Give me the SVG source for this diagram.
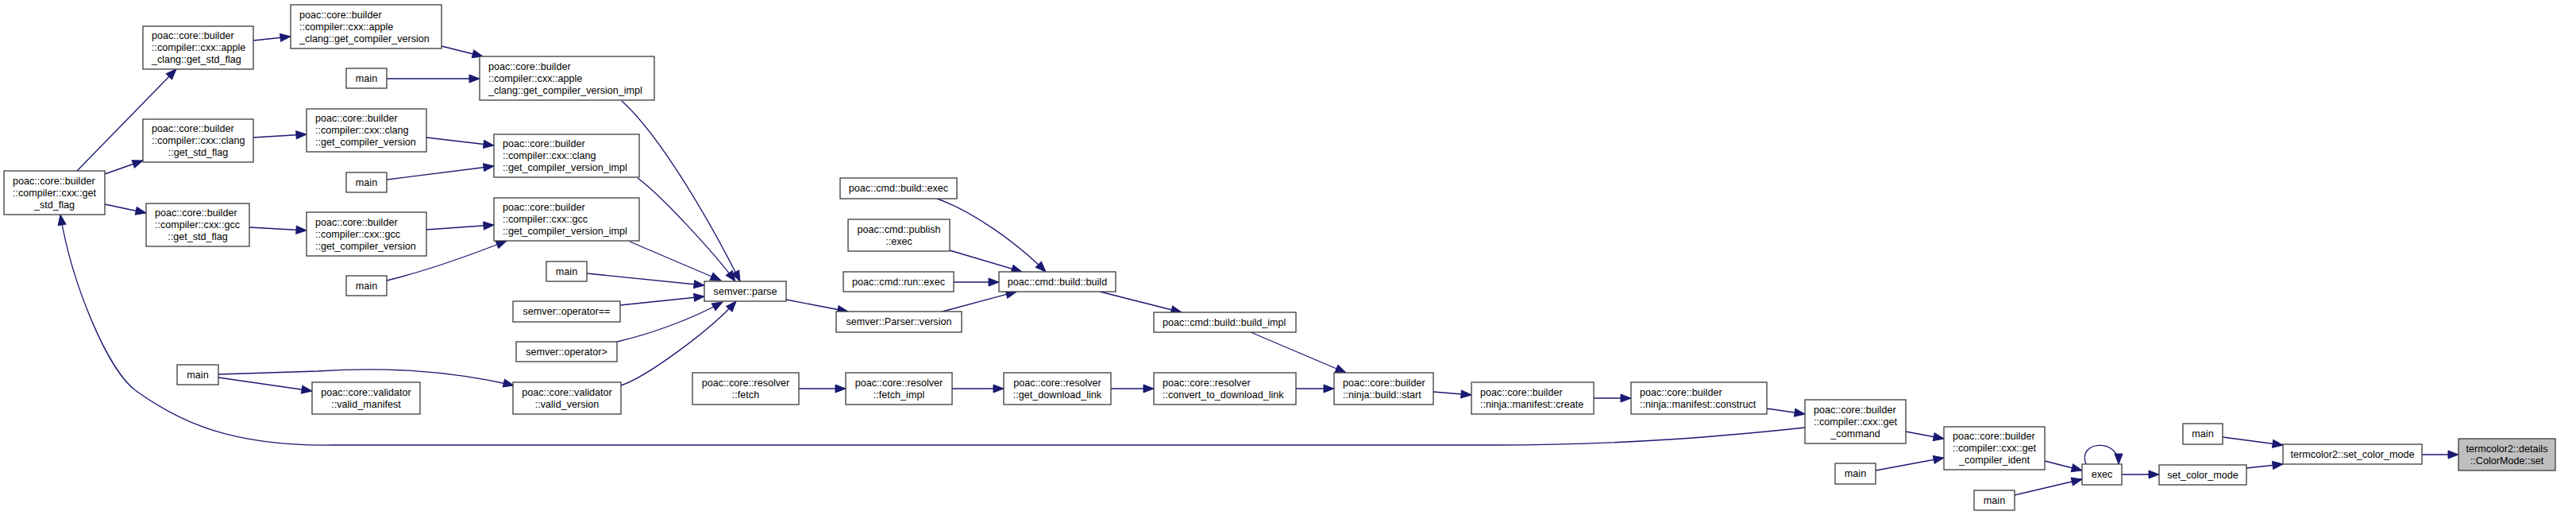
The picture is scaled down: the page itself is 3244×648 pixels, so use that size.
<svg xmlns="http://www.w3.org/2000/svg" width="3244" height="648" viewBox="0 0 3244 648">
<style>
.n rect{fill:#ffffff;stroke:#404040;stroke-width:1.33}
.n.h rect{fill:#bfbfbf}
.n text{font-family:"Liberation Sans",Arial,Helvetica,sans-serif;font-size:12.6px;fill:#000000}
.n text.m{text-anchor:middle}
.e path{fill:none;stroke:#191970;stroke-width:1.33;marker-end:url(#a)}
</style>
<defs>
<marker id="a" markerUnits="userSpaceOnUse" markerWidth="14" markerHeight="11" refX="13" refY="5" orient="auto" overflow="visible">
<polygon points="0,0 13,5 0,10" fill="#191970" stroke="#191970" stroke-width="1"/>
</marker>
</defs>
<rect width="3244" height="648" fill="#ffffff"/>
<g class="e" id="edges">
<path d="M97,215 L222,87"/>
<path d="M132,219 L180,202"/>
<path d="M132,257 L184,268"/>
<path d="M319,51 L366,46"/>
<path d="M319,173 L386,169"/>
<path d="M314,286 L386,290"/>
<path d="M556,58 L608,71"/>
<path d="M487,99 L604,99"/>
<path d="M537,173 L622,183"/>
<path d="M487,226 L622,209"/>
<path d="M537,289 L622,283"/>
<path d="M487,353 C540,340 590,322 638,303"/>
<path d="M783,127 C833,172 897,284 932,354"/>
<path d="M803,224 C833,246 900,319 926,354"/>
<path d="M793,304 L908,353"/>
<path d="M739,344 L887,359"/>
<path d="M781,384 L887,373"/>
<path d="M777,430 C820,420 870,402 910,380"/>
<path d="M782,485 C815,474 895,415 927,379"/>
<path d="M990,377 L1068,392"/>
<path d="M1180,250 C1225,266 1280,305 1317,342"/>
<path d="M1196,315 L1287,342"/>
<path d="M1201,355 L1258,355"/>
<path d="M1183,393 L1280,367"/>
<path d="M1385,367 L1488,393"/>
<path d="M1575,418 L1695,469"/>
<path d="M1006,489 L1065,489"/>
<path d="M1199,489 L1264,489"/>
<path d="M1399,489 L1453,489"/>
<path d="M1632,489 L1680,489"/>
<path d="M1805,493 L1853,497"/>
<path d="M2007,501 L2054,501"/>
<path d="M2225,514 L2273,521"/>
<path d="M2273,538 C2180,548 2050,560 1880,560 L420,560 C290,562 225,530 173,493 C135,467 90,355 76,270"/>
<path d="M275,475 L393,492"/>
<path d="M275,471 L400,467 C480,462 560,465 647,485"/>
<path d="M2400,543 L2448,552"/>
<path d="M2362,592 L2448,576"/>
<path d="M2575,580 L2622,592"/>
<path d="M2537,623 L2622,603"/>
<path d="M2627,584 C2615,555 2668,550 2668,584"/>
<path d="M2672,597 L2719,597"/>
<path d="M2799,550 L2875,560"/>
<path d="M2829,589 L2875,584"/>
<path d="M3050,572 L3096,572"/>
</g>
<g class="n" id="n1"><rect x="5" y="215" width="127" height="55"/><text x="16" y="231.5">poac::core::builder</text><text x="16" y="246.5">::compiler::cxx::get</text><text class="m" x="68.5" y="261.5">_std_flag</text></g>
<g class="n" id="n2"><rect x="180" y="33" width="139" height="54"/><text x="191" y="49">poac::core::builder</text><text x="191" y="64">::compiler::cxx::apple</text><text x="191" y="79">_clang::get_std_flag</text></g>
<g class="n" id="n3"><rect x="180" y="150" width="139" height="54"/><text x="191" y="166">poac::core::builder</text><text x="191" y="181">::compiler::cxx::clang</text><text class="m" x="249.5" y="196">::get_std_flag</text></g>
<g class="n" id="n4"><rect x="184" y="256" width="130" height="54"/><text x="195" y="272">poac::core::builder</text><text x="195" y="287">::compiler::cxx::gcc</text><text class="m" x="249" y="302">::get_std_flag</text></g>
<g class="n" id="n5"><rect x="366" y="6" width="190" height="55"/><text x="377" y="22.5">poac::core::builder</text><text x="377" y="37.5">::compiler::cxx::apple</text><text x="377" y="52.5">_clang::get_compiler_version</text></g>
<g class="n" id="n6"><rect x="386" y="137" width="151" height="54"/><text x="397" y="153">poac::core::builder</text><text x="397" y="168">::compiler::cxx::clang</text><text x="397" y="183">::get_compiler_version</text></g>
<g class="n" id="n7"><rect x="386" y="267" width="151" height="55"/><text x="397" y="283.5">poac::core::builder</text><text x="397" y="298.5">::compiler::cxx::gcc</text><text x="397" y="313.5">::get_compiler_version</text></g>
<g class="n" id="n8"><rect x="436" y="86" width="51" height="25"/><text class="m" x="461.5" y="102.5">main</text></g>
<g class="n" id="n9"><rect x="604" y="71" width="220" height="55"/><text x="615" y="87.5">poac::core::builder</text><text x="615" y="102.5">::compiler::cxx::apple</text><text x="615" y="117.5">_clang::get_compiler_version_impl</text></g>
<g class="n" id="n10"><rect x="436" y="217" width="51" height="25"/><text class="m" x="461.5" y="233.5">main</text></g>
<g class="n" id="n11"><rect x="622" y="169" width="183" height="54"/><text x="633" y="185">poac::core::builder</text><text x="633" y="200">::compiler::cxx::clang</text><text x="633" y="215">::get_compiler_version_impl</text></g>
<g class="n" id="n12"><rect x="622" y="249" width="183" height="54"/><text x="633" y="265">poac::core::builder</text><text x="633" y="280">::compiler::cxx::gcc</text><text x="633" y="295">::get_compiler_version_impl</text></g>
<g class="n" id="n13"><rect x="436" y="347" width="51" height="25"/><text class="m" x="461.5" y="363.5">main</text></g>
<g class="n" id="n14"><rect x="688" y="329" width="51" height="25"/><text class="m" x="713.5" y="345.5">main</text></g>
<g class="n" id="n15"><rect x="646" y="379" width="135" height="26"/><text class="m" x="713.5" y="396">semver::operator==</text></g>
<g class="n" id="n16"><rect x="650" y="430" width="127" height="25"/><text class="m" x="713.5" y="446.5">semver::operator&gt;</text></g>
<g class="n" id="n17"><rect x="646" y="481" width="136" height="40"/><text class="m" x="714" y="497.5">poac::core::validator</text><text class="m" x="714" y="512.5">::valid_version</text></g>
<g class="n" id="n18"><rect x="393" y="481" width="136" height="40"/><text class="m" x="461" y="497.5">poac::core::validator</text><text class="m" x="461" y="512.5">::valid_manifest</text></g>
<g class="n" id="n19"><rect x="223" y="459" width="52" height="25"/><text class="m" x="249" y="475.5">main</text></g>
<g class="n" id="n20"><rect x="887" y="354" width="103" height="25"/><text class="m" x="938.5" y="370.5">semver::parse</text></g>
<g class="n" id="n21"><rect x="872" y="469" width="134" height="40"/><text class="m" x="939" y="485.5">poac::core::resolver</text><text class="m" x="939" y="500.5">::fetch</text></g>
<g class="n" id="n22"><rect x="1065" y="469" width="134" height="40"/><text class="m" x="1132" y="485.5">poac::core::resolver</text><text class="m" x="1132" y="500.5">::fetch_impl</text></g>
<g class="n" id="n23"><rect x="1264" y="469" width="135" height="40"/><text class="m" x="1331.5" y="485.5">poac::core::resolver</text><text class="m" x="1331.5" y="500.5">::get_download_link</text></g>
<g class="n" id="n24"><rect x="1453" y="469" width="179" height="40"/><text x="1464" y="485.5">poac::core::resolver</text><text x="1464" y="500.5">::convert_to_download_link</text></g>
<g class="n" id="n25"><rect x="1680" y="469" width="125" height="40"/><text x="1691" y="485.5">poac::core::builder</text><text x="1691" y="500.5">::ninja::build::start</text></g>
<g class="n" id="n26"><rect x="1853" y="481" width="154" height="40"/><text x="1864" y="497.5">poac::core::builder</text><text x="1864" y="512.5">::ninja::manifest::create</text></g>
<g class="n" id="n27"><rect x="2054" y="481" width="171" height="40"/><text x="2065" y="497.5">poac::core::builder</text><text x="2065" y="512.5">::ninja::manifest::construct</text></g>
<g class="n" id="n28"><rect x="2273" y="503" width="127" height="55"/><text x="2284" y="519.5">poac::core::builder</text><text x="2284" y="534.5">::compiler::cxx::get</text><text class="m" x="2336.5" y="549.5">_command</text></g>
<g class="n" id="n29"><rect x="2448" y="537" width="127" height="54"/><text x="2459" y="553">poac::core::builder</text><text x="2459" y="568">::compiler::cxx::get</text><text class="m" x="2511.5" y="583">_compiler_ident</text></g>
<g class="n" id="n30"><rect x="2311" y="583" width="51" height="26"/><text class="m" x="2336.5" y="600">main</text></g>
<g class="n" id="n31"><rect x="2486" y="617" width="51" height="25"/><text class="m" x="2511.5" y="633.5">main</text></g>
<g class="n" id="n32"><rect x="2622" y="584" width="50" height="26"/><text class="m" x="2647" y="601">exec</text></g>
<g class="n" id="n33"><rect x="2719" y="585" width="110" height="25"/><text class="m" x="2774" y="601.5">set_color_mode</text></g>
<g class="n" id="n34"><rect x="2749" y="533" width="50" height="26"/><text class="m" x="2774" y="550">main</text></g>
<g class="n" id="n35"><rect x="2875" y="559" width="175" height="25"/><text class="m" x="2962.5" y="575.5">termcolor2::set_color_mode</text></g>
<g class="n h" id="n36"><rect x="3096" y="552" width="122" height="40"/><text class="m" x="3157" y="568.5">termcolor2::details</text><text class="m" x="3157" y="583.5">::ColorMode::set</text></g>
<g class="n" id="n37"><rect x="1058" y="224" width="147" height="26"/><text class="m" x="1131.5" y="241">poac::cmd::build::exec</text></g>
<g class="n" id="n38"><rect x="1068" y="276" width="128" height="40"/><text class="m" x="1132" y="292.5">poac::cmd::publish</text><text class="m" x="1132" y="307.5">::exec</text></g>
<g class="n" id="n39"><rect x="1062" y="342" width="139" height="25"/><text class="m" x="1131.5" y="358.5">poac::cmd::run::exec</text></g>
<g class="n" id="n40"><rect x="1053" y="392" width="158" height="26"/><text class="m" x="1132" y="409">semver::Parser::version</text></g>
<g class="n" id="n41"><rect x="1258" y="342" width="147" height="25"/><text class="m" x="1331.5" y="358.5">poac::cmd::build::build</text></g>
<g class="n" id="n42"><rect x="1453" y="393" width="179" height="25"/><text x="1464" y="409.5">poac::cmd::build::build_impl</text></g>
</svg>
